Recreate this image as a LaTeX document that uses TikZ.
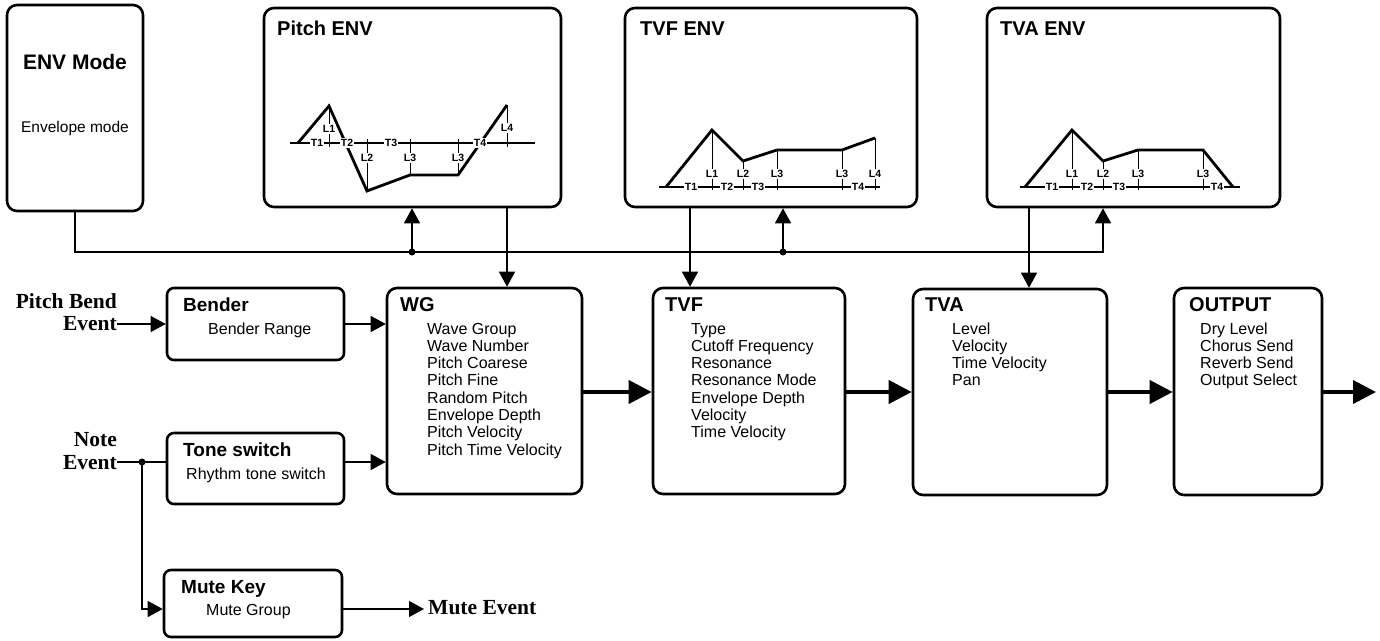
\documentclass[tikz,border=0pt]{standalone}
\usepackage{fontspec}
\setmainfont{Liberation Sans}
\newfontfamily\serifb{Liberation Serif}
\usetikzlibrary{arrows.meta,calc}
\begin{document}
\begin{tikzpicture}[x=1pt,y=-1pt,
  blk/.style={draw, line width=2.6pt, rounded corners=10pt, inner sep=0pt},
  sblk/.style={blk, rounded corners=7pt},
  tarr/.style={line width=1.3pt, -{Triangle[length=15pt,width=16pt]}},
  thk/.style={line width=4pt, -{Triangle[length=23pt,width=23pt]}},
  ttl/.style={font=\bfseries\fontsize{20}{22}\selectfont, anchor=base west, inner sep=0pt},
  sttl/.style={font=\bfseries\fontsize{19}{21}\selectfont, anchor=base west, inner sep=0pt},
  lst/.style={font=\fontsize{16}{17.3}\selectfont, align=left, anchor=base west, inner sep=0pt},
  evt/.style={font=\serifb\bfseries\fontsize{21.5}{22.5}\selectfont, align=right, anchor=base east, inner sep=0pt},
  envl/.style={line width=2.8pt, line join=miter},
  baseln/.style={line width=1.2pt},
  vl/.style={line width=1pt},
  lab/.style={font=\bfseries\fontsize{10.5}{10.5}\selectfont, fill=white, inner sep=1.2pt},
  jdot/.style={circle, fill, inner sep=0pt, minimum size=7pt}
]
\useasboundingbox (0,0) rectangle (1380,640);

% ---------- boxes ----------
\node[blk, minimum width=136pt, minimum height=206pt] (envmode) at (75,108) {};
\node[blk, minimum width=297pt, minimum height=199pt] (pitchenv) at (412.5,107.5) {};
\node[blk, minimum width=292pt, minimum height=199pt] (tvfenv) at (771,107.5) {};
\node[blk, minimum width=293pt, minimum height=199pt] (tvaenv) at (1133.5,107.5) {};

\node[sblk, minimum width=177pt, minimum height=72pt] (bender) at (255.5,324) {};
\node[sblk, minimum width=177pt, minimum height=71pt] (tone) at (255.5,468.5) {};
\node[sblk, minimum width=178pt, minimum height=67pt] (mute) at (253,603.5) {};

\node[blk, minimum width=195pt, minimum height=206pt] (wg) at (484.5,391) {};
\node[blk, minimum width=192pt, minimum height=206pt] (tvf) at (749,391) {};
\node[blk, minimum width=194pt, minimum height=206pt] (tva) at (1010,392) {};
\node[blk, minimum width=148pt, minimum height=207pt] (out) at (1248,391.5) {};

% ---------- texts ----------
\node[font=\bfseries\fontsize{21}{23}\selectfont, anchor=base, inner sep=0pt] (envmodet) at (75,69.3) {ENV Mode};
\node[font=\fontsize{15.5}{17}\selectfont, anchor=base, inner sep=0pt] (envmodel) at (75,132.7) {Envelope mode};

\node[ttl] (pitchenvt) at (277,35) {Pitch ENV};
\node[ttl] (tvfenvt) at (640,35) {TVF ENV};
\node[ttl] (tvaenvt) at (1000,35) {TVA ENV};

\node[sttl] (bendert) at (183,311.7) {Bender};
\node[lst] (benderl) at (208,334.3) {Bender Range};
\node[sttl] (tonet) at (183,456.7) {Tone switch};
\node[lst] (tonel) at (186,479.3) {Rhythm tone switch};
\node[sttl] (mutet) at (181,593.3) {Mute Key};
\node[lst] (mutel) at (206,615.7) {Mute Group};

% multi-line nodes: base anchor = baseline of the last line
\node[ttl] (wgt) at (400,311.7) {WG};
\node[lst] (wgl) at (427,455.1) {Wave Group\\Wave Number\\Pitch Coarese\\Pitch Fine\\Random Pitch\\Envelope Depth\\Pitch Velocity\\Pitch Time Velocity};
\node[ttl] (tvft) at (665,311.7) {TVF};
\node[lst] (tvfl) at (691,437.8) {Type\\Cutoff Frequency\\Resonance\\Resonance Mode\\Envelope Depth\\Velocity\\Time Velocity};
\node[ttl] (tvat) at (925,311.7) {TVA};
\node[lst] (tval) at (952,385.9) {Level\\Velocity\\Time Velocity\\Pan};
\node[ttl] (outt) at (1189,311.7) {OUTPUT};
\node[lst] (outl) at (1200,385.9) {Dry Level\\Chorus Send\\Reverb Send\\Output Select};

\node[evt] (pbe) at (117,330.7) {Pitch Bend\\Event};
\node[evt] (ne) at (117,469.3) {Note\\Event};
\node[evt, anchor=base west, align=left] (mev) at (428,614) {Mute Event};

% ---------- envelope graphs ----------
% Pitch ENV
\draw[baseln] (290,143) -- (535,143);
\draw[envl] (298,143) -- (329,106) -- (367,191) -- (410,175) -- (458,175) -- (507,105);
\draw[vl] (329,106) -- (329,147);
\draw[vl] (367,191) -- (367,139);
\draw[vl] (410,175) -- (410,139);
\draw[vl] (458,175) -- (458,139);
\draw[vl] (507,105) -- (507,147);
\node[lab] (pL1) at (329,129) {L1};
\node[lab] (pL2) at (367,158) {L2};
\node[lab] (pL3) at (410,158) {L3};
\node[lab] (pL3b) at (458,158) {L3};
\node[lab] (pL4) at (507,128) {L4};
\node[lab] (pT1) at (317,143) {T1};
\node[lab] (pT2) at (347,143) {T2};
\node[lab] (pT3) at (391,143) {T3};
\node[lab] (pT4) at (480,143) {T4};

% TVF ENV
\draw[baseln] (659,187) -- (880,187);
\draw[envl] (666,187) -- (712,130) -- (743,161) -- (777,150) -- (842,150) -- (875,138);
\foreach \x/\y in {712/130, 743/161, 777/150, 842/150, 875/138}
  \draw[vl] (\x,\y) -- (\x,190);
\node[lab] (fL1) at (712,174) {L1};
\node[lab] (fL2) at (743,174) {L2};
\node[lab] (fL3) at (777,174) {L3};
\node[lab] (fL3b) at (842,174) {L3};
\node[lab] (fL4) at (875,174) {L4};
\node[lab] (fT1) at (691,187) {T1};
\node[lab] (fT2) at (727,187) {T2};
\node[lab] (fT3) at (758,187) {T3};
\node[lab] (fT4) at (858,187) {T4};

% TVA ENV
\draw[baseln] (1020,187) -- (1240,187);
\draw[envl] (1025,187) -- (1072,130) -- (1103,161) -- (1138,150) -- (1203,150) -- (1233,187);
\foreach \x/\y in {1072/130, 1103/161, 1138/150, 1203/150}
  \draw[vl] (\x,\y) -- (\x,190);
\node[lab] (aL1) at (1072,174) {L1};
\node[lab] (aL2) at (1103,174) {L2};
\node[lab] (aL3) at (1138,174) {L3};
\node[lab] (aL3b) at (1203,174) {L3};
\node[lab] (aT1) at (1052,187) {T1};
\node[lab] (aT2) at (1087,187) {T2};
\node[lab] (aT3) at (1119,187) {T3};
\node[lab] (aT4) at (1217,187) {T4};

% ---------- bus and vertical connectors ----------
\coordinate (busR) at (1103,252);
\coordinate (j1) at (412,252);
\coordinate (j2) at (783,252);
\coordinate (xp) at (507,0);
\coordinate (xf) at (690,0);
\coordinate (xa) at (1029,0);
\draw[tarr] (envmode.south) |- (busR) -- (tvaenv.south -| busR);
\draw[tarr] (j1) -- (pitchenv.south -| j1);
\draw[tarr] (j2) -- (tvfenv.south -| j2);
\node[jdot] (dj1) at (j1) {};
\node[jdot] (dj2) at (j2) {};
\draw[tarr] (pitchenv.south -| xp) -- (wg.north -| xp);
\draw[tarr] (tvfenv.south -| xf) -- (tvf.north -| xf);
\draw[tarr] (tvaenv.south -| xa) -- (tva.north -| xa);

% ---------- left side ----------
\coordinate (nedot) at (142,462);
\coordinate (mrow) at (0,609);
\draw[tarr] (pbe.east |- bender.west) -- (bender.west);
\draw[tarr] (bender.east) -- (wg.west |- bender.east);
\draw[line width=1.3pt] (ne.east |- nedot) -- (nedot) -- (tone.west |- nedot);
\draw[tarr] (tone.east |- nedot) -- (wg.west |- nedot);
\draw[tarr] (nedot) |- (mute.west |- mrow);
\node[jdot] (dne) at (nedot) {};
\draw[tarr, shorten >=4pt] (mute.east |- mrow) -- (mev.west |- mrow);

% ---------- main signal path ----------
\coordinate (sig) at (0,392);
\coordinate (endout) at (1376,392);
\draw[thk] (wg.east |- sig) -- (tvf.west |- sig);
\draw[thk] (tvf.east |- sig) -- (tva.west |- sig);
\draw[thk] (tva.east |- sig) -- (out.west |- sig);
\draw[thk] (out.east |- sig) -- (endout);
\end{tikzpicture}
\end{document}
